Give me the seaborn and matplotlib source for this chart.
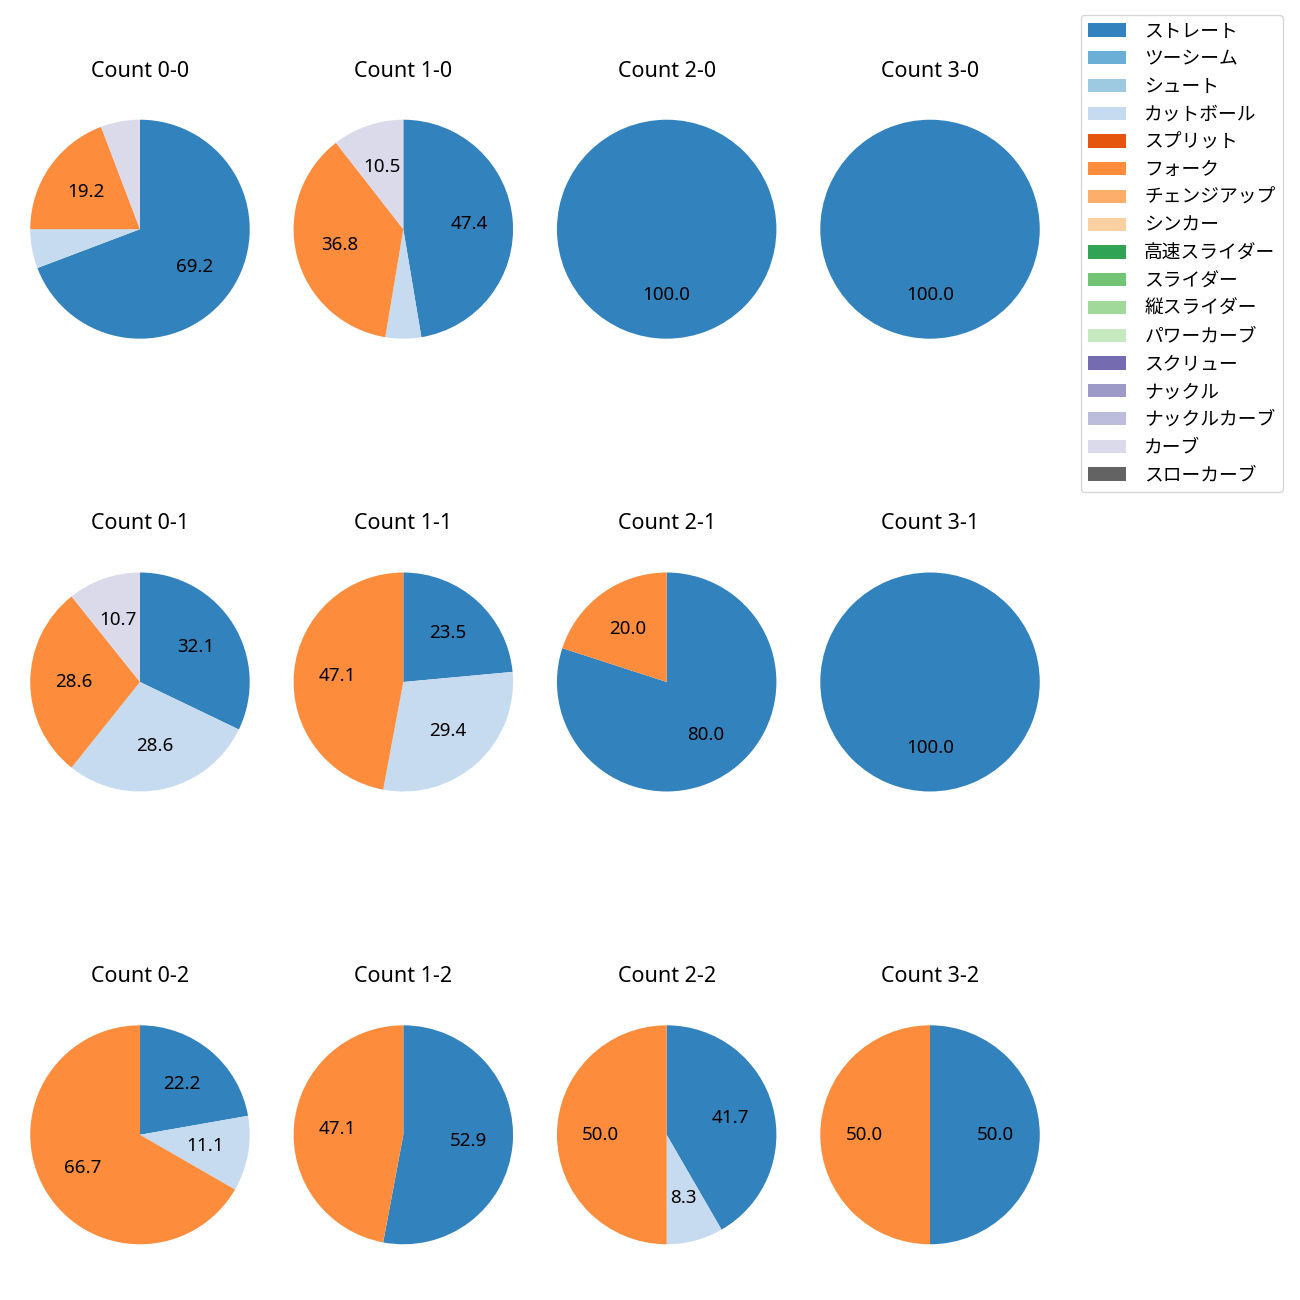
import matplotlib
matplotlib.use("Agg")
import matplotlib.pyplot as plt
import seaborn as sns
from matplotlib.patches import Patch

plt.rcParams['font.family'] = ['Noto Sans', 'Noto Sans CJK JP', 'DejaVu Sans']

pitch_types = ["ストレート", "ツーシーム", "シュート", "カットボール", "スプリット", "フォーク",
               "チェンジアップ", "シンカー", "高速スライダー", "スライダー", "縦スライダー",
               "パワーカーブ", "スクリュー", "ナックル", "ナックルカーブ", "カーブ", "スローカーブ"]

# pitch counts per ball-strike count (other pitch types are zero)
count_labels = ["0-0", "1-0", "2-0", "3-0",
                "0-1", "1-1", "2-1", "3-1",
                "0-2", "1-2", "2-2", "3-2"]
straight = [36, 9, 5, 3, 9, 4, 4, 2, 2, 9, 5, 1]
cutball  = [3, 1, 0, 0, 8, 5, 0, 0, 1, 0, 1, 0]
fork     = [10, 7, 0, 0, 8, 8, 1, 0, 6, 8, 6, 1]
curve    = [3, 2, 0, 0, 3, 0, 0, 0, 0, 0, 0, 0]

colors = sns.color_palette("tab20c", 20).as_hex()[:17]

fig, axes = plt.subplots(3, 4, figsize=(13, 13), dpi=100)
fig.subplots_adjust(left=8.3 / 1300, right=1061.7 / 1300,
                    top=1 - 85 / 1300, bottom=1 - 1279 / 1300,
                    wspace=0.0, hspace=0.57)

for i, ax in enumerate(axes.flat):
    vals = [0.0] * len(pitch_types)
    vals[0] = straight[i]
    vals[3] = cutball[i]
    vals[5] = fork[i]
    vals[15] = curve[i]
    idx = [k for k, v in enumerate(vals) if v > 0]
    ax.pie([vals[k] for k in idx], colors=[colors[k] for k in idx],
           startangle=90, counterclock=False,
           autopct=lambda p: f"{p:.1f}" if p >= 8 else "",
           wedgeprops={'linewidth': 0},
           textprops={'fontsize': 13.5, 'color': 'black'})
    ax.set_aspect('auto')
    ax.set_xlim(-1.2, 1.2)
    ax.set_ylim(-1.2 * 289 / 263.3, 1.2 * 289 / 263.3)
    ax.set_title(f"Count {count_labels[i]}", fontsize=15.5, color='black')

handles = [Patch(facecolor=c, label=l) for c, l in zip(colors, pitch_types)]
fig.legend(handles=handles, loc='upper right', borderaxespad=0,
           bbox_to_anchor=(1283 / 1300, 1 - 15 / 1300), fontsize=13.5,
           handletextpad=1.0, labelspacing=0.52)

fig.savefig("out.png", dpi=100)
